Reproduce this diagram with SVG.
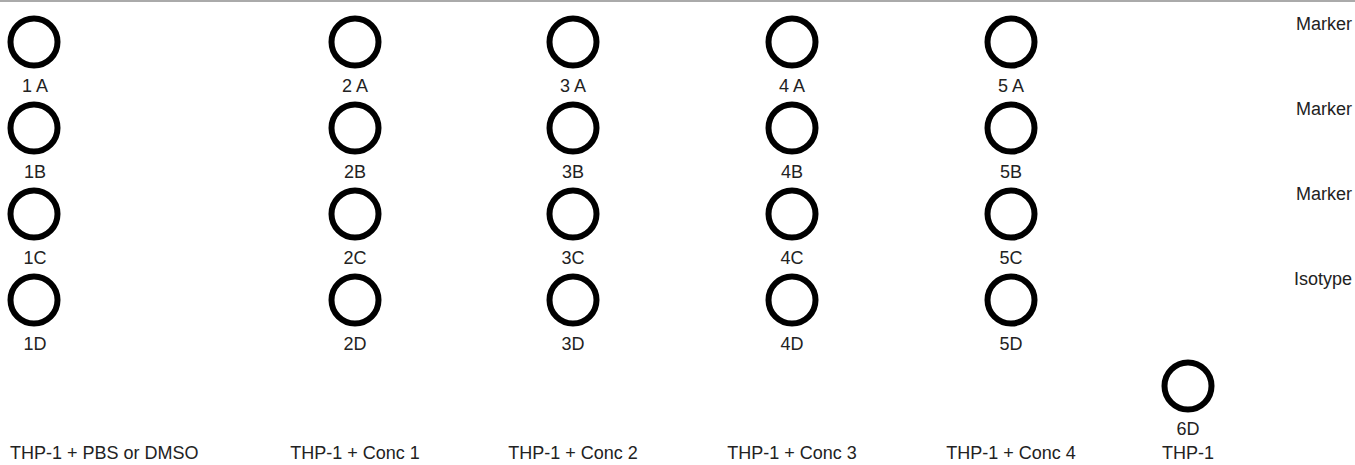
<svg xmlns="http://www.w3.org/2000/svg" width="1355" height="465" viewBox="0 0 1355 465">
<style>
.c{fill:none;stroke:#000;stroke-width:6}
text{font-family:"Liberation Sans",Arial,sans-serif;font-size:18px;fill:#222}
.m{text-anchor:middle}
.r{text-anchor:end}
</style>
<rect width="1355" height="465" fill="#fff"/>
<line x1="0" y1="1" x2="1355" y2="1" stroke="#aaa" stroke-width="2"/>
<g id="connectors"/>
<g id="n1A"><circle class="c" cx="34" cy="42" r="23.5"/><text class="m" x="35" y="92">1 A</text></g>
<g id="n2A"><circle class="c" cx="355" cy="42" r="23.5"/><text class="m" x="355" y="92">2 A</text></g>
<g id="n3A"><circle class="c" cx="573" cy="42" r="23.5"/><text class="m" x="573" y="92">3 A</text></g>
<g id="n4A"><circle class="c" cx="792" cy="42" r="23.5"/><text class="m" x="792" y="92">4 A</text></g>
<g id="n5A"><circle class="c" cx="1011" cy="42" r="23.5"/><text class="m" x="1011" y="92">5 A</text></g>
<g id="n1B"><circle class="c" cx="34" cy="128" r="23.5"/><text class="m" x="35" y="178">1B</text></g>
<g id="n2B"><circle class="c" cx="355" cy="128" r="23.5"/><text class="m" x="355" y="178">2B</text></g>
<g id="n3B"><circle class="c" cx="573" cy="128" r="23.5"/><text class="m" x="573" y="178">3B</text></g>
<g id="n4B"><circle class="c" cx="792" cy="128" r="23.5"/><text class="m" x="792" y="178">4B</text></g>
<g id="n5B"><circle class="c" cx="1011" cy="128" r="23.5"/><text class="m" x="1011" y="178">5B</text></g>
<g id="n1C"><circle class="c" cx="34" cy="214" r="23.5"/><text class="m" x="35" y="264">1C</text></g>
<g id="n2C"><circle class="c" cx="355" cy="214" r="23.5"/><text class="m" x="355" y="264">2C</text></g>
<g id="n3C"><circle class="c" cx="573" cy="214" r="23.5"/><text class="m" x="573" y="264">3C</text></g>
<g id="n4C"><circle class="c" cx="792" cy="214" r="23.5"/><text class="m" x="792" y="264">4C</text></g>
<g id="n5C"><circle class="c" cx="1011" cy="214" r="23.5"/><text class="m" x="1011" y="264">5C</text></g>
<g id="n1D"><circle class="c" cx="34" cy="300" r="23.5"/><text class="m" x="35" y="350">1D</text></g>
<g id="n2D"><circle class="c" cx="355" cy="300" r="23.5"/><text class="m" x="355" y="350">2D</text></g>
<g id="n3D"><circle class="c" cx="573" cy="300" r="23.5"/><text class="m" x="573" y="350">3D</text></g>
<g id="n4D"><circle class="c" cx="792" cy="300" r="23.5"/><text class="m" x="792" y="350">4D</text></g>
<g id="n5D"><circle class="c" cx="1011" cy="300" r="23.5"/><text class="m" x="1011" y="350">5D</text></g>
<g id="n6D"><circle class="c" cx="1188" cy="386" r="23.5"/><text class="m" x="1188" y="435">6D</text></g>
<g id="rowlabels">
<text class="r" x="1352" y="30">Marker</text>
<text class="r" x="1352" y="115">Marker</text>
<text class="r" x="1352" y="200">Marker</text>
<text class="r" x="1352" y="285">Isotype</text>
</g>
<g id="collabels">
<text x="10" y="459">THP-1 + PBS or DMSO</text>
<text class="m" x="355" y="459">THP-1 + Conc 1</text>
<text class="m" x="573" y="459">THP-1 + Conc 2</text>
<text class="m" x="792" y="459">THP-1 + Conc 3</text>
<text class="m" x="1011" y="459">THP-1 + Conc 4</text>
<text class="m" x="1188" y="459">THP-1</text>
</g>
</svg>
